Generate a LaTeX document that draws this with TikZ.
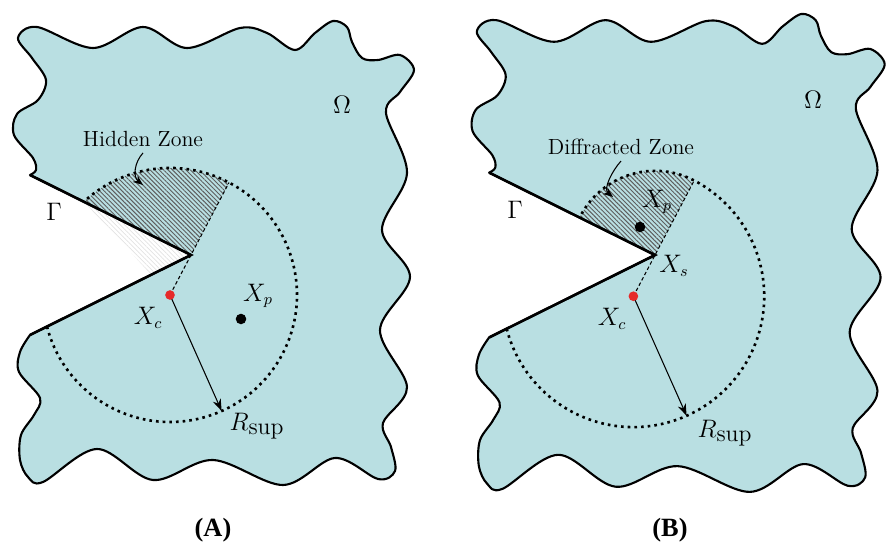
\documentclass[tikz,border=0pt]{standalone}
\usepackage{fontspec}
\newfontfamily\capfont{Liberation Serif}
\usetikzlibrary{arrows.meta, patterns.meta}
\definecolor{cdomain}{HTML}{B9DFE2}
\definecolor{cred}{HTML}{E62A2A}
\definecolor{chatch}{HTML}{5E5E5E}
\tikzset{
  omega/.style={draw=black, fill=cdomain, line width=1.2pt, line join=round},
  wall/.style={line width=1.5pt, line join=miter},
  supcircle/.style={line width=1.5pt, dash pattern=on 1.5pt off 2.3pt},
  ray/.style={line width=0.6pt, dash pattern=on 2pt off 1.4pt},
  zone/.style={pattern={Lines[angle=-45, distance=1.8pt, line width=0.55pt]}, pattern color=chatch},
  ghostzone/.style={pattern={Lines[angle=-45, distance=1.8pt, line width=0.4pt]}, pattern color=chatch!18},
  radius arrow/.style={-{Stealth[length=2.4mm, width=1.7mm]}, line width=0.6pt},
  zone arrow/.style={-{Stealth[length=2mm, width=1.6mm]}, line width=0.6pt},
  center dot/.style={circle, fill=cred, inner sep=0pt, minimum size=5.5pt},
  point dot/.style={circle, fill=black, inner sep=0pt, minimum size=6pt},
  lbl/.style={font=\fontsize{13.5}{16}\selectfont, inner sep=1pt},
  zonelbl/.style={font=\fontsize{12.5}{15}\selectfont},
  caption/.style={font=\capfont\bfseries\fontsize{15}{18}\selectfont},
}
% outer wavy boundary of Omega, from the lower corner of Gamma round to its upper corner
\newcommand{\omegaboundary}{plot[smooth, tension=0.55] coordinates {
  (30,335) (20,352) (19,372) (40,398) (34,415) (21,435) (20,460) (28,477) (43,482)
  (97,449) (153,480) (213,460) (283,485) (335,458) (378,479) (395,471) (391,447)
  (383,423) (407,387) (380,330) (410,277) (382,230) (407,173) (386,113) (400,92)
  (414,70) (400,55) (378,60) (362,58) (352,42) (347,27) (333,21) (315,33) (295,50)
  (267,33) (240,28) (187,48) (143,27) (93,48) (37,27) (18,38) (32,58) (46,80)
  (38,100) (17,114) (14,135) (33,158) (36,170) (30,175)}}

\begin{document}
\begin{tikzpicture}[x=0.02cm, y=-0.02cm]
  \useasboundingbox (0,0) rectangle (894,543);

  % (A) hidden zone
  \begin{scope}
    \coordinate (xcA) at (170,295);
    \coordinate (tipA) at (191,255);
    \coordinate (topA) at (30,175);
    \coordinate (botA) at (30,335);
    \path (xcA) ++(-62.3:127) coordinate (rayA);
    \path (xcA) ++(-132.7:127) coordinate (upA);
    \path (xcA) ++(165.6:127) coordinate (lowA);
    \path (xcA) ++(-132.7:27.6) coordinate (crossA);
    \path (xcA) ++(66:127) coordinate (rsupA);
    \draw[omega] \omegaboundary -- (tipA) -- cycle;
    \fill[ghostzone] (tipA) -- (upA) -- (crossA) -- cycle;
    \fill[zone] (tipA) -- (upA) arc[start angle=-132.7, end angle=-62.3, radius=127] -- cycle;
    \draw[supcircle] (lowA) arc[start angle=165.6, end angle=-132.7, radius=127];
    \draw[ray] (xcA) -- (rayA);
    \draw[wall] (topA) -- (tipA) -- (botA);
    \draw[radius arrow] (xcA) -- (rsupA);
    \node[center dot] (dotcA) at (xcA) {};
  \end{scope}

  % (B) diffracted zone
  \begin{scope}[shift={(655,255)}, scale=1.03, shift={(-191,-255)}]
    \coordinate (xcB) at (170,295);
    \coordinate (tipB) at (191,255);
    \coordinate (topB) at (30,175);
    \coordinate (botB) at (30,335);
    \path (xcB) ++(-62.3:127) coordinate (rayB);
    \path (xcB) ++(165.6:127) coordinate (lowB);
    \path (xcB) ++(66:127) coordinate (rsupB);
    \draw[omega] \omegaboundary -- (tipB) -- cycle;
    \fill[zone] (tipB) -- (rayB) arc[start angle=-62.3, end angle=-153.6, radius=81.8] -- cycle;
    \draw[supcircle] (lowB) arc[start angle=165.6, end angle=-62.3, radius=127]
      arc[start angle=-62.3, end angle=-153.6, radius=81.8];
    \draw[ray] (xcB) -- (rayB);
    \draw[wall] (topB) -- (tipB) -- (botB);
    \draw[radius arrow] (xcB) -- (rsupB);
    \node[center dot] (dotcB) at (xcB) {};
  \end{scope}

  % labels (A)
  \node[lbl] (omegaA) at (342,105) {$\Omega$};
  \node[lbl] (gammaA) at (54,212) {$\Gamma$};
  \node[zonelbl] (hiddenA) at (143,139) {Hidden Zone};
  \coordinate (hidtipA) at (143,185);
  \draw[zone arrow] (hiddenA.south) .. controls +(-9,10) and +(-10,-8) .. (hidtipA);
  \node[lbl] (xcAlbl) at (148,318) {$X_c$};
  \node[lbl] (xpAlbl) at (258,296) {$X_p$};
  \node[point dot] (xpA) at (241,319) {};
  \node[lbl] (rsupAlbl) at (257,426) {$R_{\mbox{sup}}$};
  \node[caption] (capA) at (213,530) {(A)};

  % labels (B)
  \node[lbl] (omegaB) at (813,100) {$\Omega$};
  \node[lbl] (gammaB) at (515,210) {$\Gamma$};
  \node[zonelbl] (diffB) at (621,147) {Diffracted Zone};
  \coordinate (diftipB) at (613,197);
  \draw[zone arrow] (diffB.south) .. controls +(-9,10) and +(-10,-8) .. (diftipB);
  \node[lbl] (xpBlbl) at (657,202) {$X_p$};
  \node[point dot] (xpB) at (640,227) {};
  \node[lbl] (xsBlbl) at (674,266) {$X_s$};
  \node[lbl] (xcBlbl) at (612,319) {$X_c$};
  \node[lbl] (rsupBlbl) at (725,433) {$R_{\mbox{sup}}$};
  \node[caption] (capB) at (670,530) {(B)};
\end{tikzpicture}
\end{document}
